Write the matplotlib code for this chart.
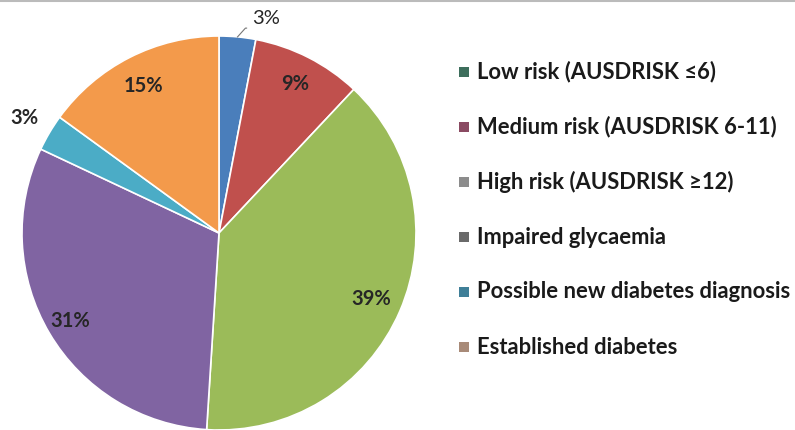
import numpy as np
import matplotlib
matplotlib.use("Agg")
import matplotlib.pyplot as plt
from matplotlib.lines import Line2D
from matplotlib.patches import Rectangle

categories = ["Low risk (AUSDRISK \u22646)", "Medium risk (AUSDRISK 6-11)",
              "High risk (AUSDRISK \u226512)", "Impaired glycaemia",
              "Possible new diabetes diagnosis", "Established diabetes"]
values = [3, 9, 39, 31, 3, 15]
labels = ["3%", "9%", "39%", "31%", "3%", "15%"]
slice_colors = ["#4a7ebb", "#c0504d", "#9bbb59", "#8064a2", "#4bacc6", "#f39a4b"]
legend_colors = ["#3d6e5c", "#8a4a62", "#8c8c8c", "#6a6a6a", "#3f7f98", "#a88a78"]

plt.rcParams['font.family'] = ['Lato', 'DejaVu Sans']

W, H = 795, 430
fig = plt.figure(figsize=(W / 100, H / 100), dpi=100)
fig.patch.set_facecolor("white")

cx, cy, R = 219, 233, 197
k = 1.3
aw = 2 * R * k
ax = fig.add_axes([(cx - R * k) / W, (H - cy - R * k) / H, aw / W, aw / H])
wedges, _ = ax.pie(values, startangle=90, counterclock=False, colors=slice_colors,
                   radius=1.0, wedgeprops=dict(edgecolor="white", linewidth=1.2))
ax.set_xlim(-k, k)
ax.set_ylim(-k, k)
ax.set_aspect("equal")
ax.axis("off")

# label placements (radius factors)
dist = [None, 0.85, 0.84, 0.88, 1.15, 0.84]
for i, (w, lab) in enumerate(zip(wedges, labels)):
    mid = np.deg2rad((w.theta1 + w.theta2) / 2)
    if i == 0:
        ex, ey = np.cos(mid) * 1.0, np.sin(mid) * 1.0
        tx, ty = 0.24, 1.09
        ax.plot([ex, ex + 0.04, tx - 0.1], [ey, 1.04, 1.04], color="#777777", lw=0.8,
                clip_on=False)
        ax.text(tx, ty, lab, ha="center", va="center", fontsize=14.5,
                color="#262626")
        continue
    d = dist[i]
    ax.text(np.cos(mid) * d, np.sin(mid) * d, lab, ha="center", va="center",
            fontsize=14.5, fontweight="bold", color="#262626")

# legend
y0 = 72
for i, (c, name) in enumerate(zip(legend_colors, categories)):
    y = y0 + 55 * i
    fig.patches.append(Rectangle(((459) / W, (H - y - 5) / H), 10 / W, 10 / H,
                                 transform=fig.transFigure, facecolor=c,
                                 edgecolor="none"))
    fig.text(477 / W, (H - y) / H, name, ha="left", va="center", fontsize=15.8,
             fontweight="bold", color="#1a1a1a")

# top border line
fig.add_artist(Line2D([0, 1], [1 - 1 / H, 1 - 1 / H], transform=fig.transFigure,
                      color="#bbbbbb", lw=1.5))

fig.savefig("out.png", dpi=100)
